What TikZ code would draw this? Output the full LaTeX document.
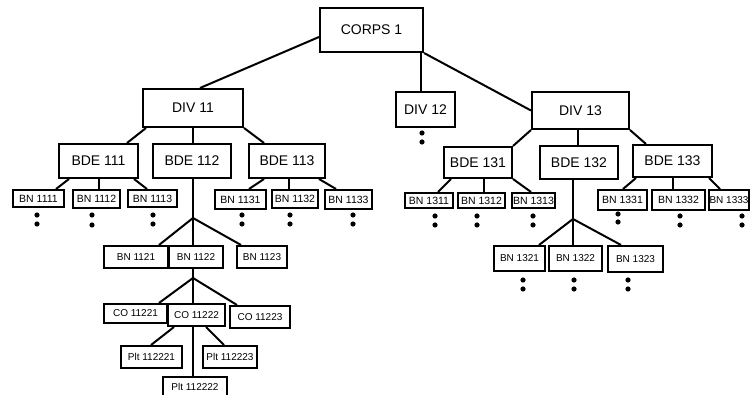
\documentclass[tikz,border=0pt]{standalone}
\usepackage{fontspec}
\setmainfont{Liberation Sans}
\usetikzlibrary{calc}
\newcommand\mybox[7][]{\node[box,#1,minimum width={(#4-#2)*1pt},minimum height={(#5-#3)*1pt}] (#6) at ({(#2+#4)/2},{(#3+#5)/2}) {#7};}
\tikzset{
  box/.style={draw,line width=2pt,inner sep=0pt,fill=white},
  big/.style={font=\fontsize{14}{16}\selectfont},
  bn/.style={font=\fontsize{10.5}{12}\selectfont},
  sm/.style={font=\fontsize{10}{12}\selectfont},
  link/.style={line width=2pt},
  pt/.style={fill=black}
}
\begin{document}
\begin{tikzpicture}[x=1pt,y=-1pt]
\fill[white] (0,0) rectangle (750,395);
\useasboundingbox (0,0) rectangle (750,395);
% top levels
\mybox[big]{320}{8}{423}{52}{corps}{CORPS 1}
\mybox[big]{143}{89}{243}{127}{div11}{DIV 11}
\mybox[big]{396}{92}{455}{127}{div12}{DIV 12}
\mybox[big]{532}{92}{629}{129}{div13}{DIV 13}
% brigades
\mybox[big]{59}{144}{138}{178}{bde111}{BDE 111}
\mybox[big]{153}{144}{231}{178}{bde112}{BDE 112}
\mybox[big]{249}{144}{325}{178}{bde113}{BDE 113}
\mybox[big]{444}{147}{512}{178}{bde131}{BDE 131}
\mybox[big]{540}{146}{618}{179}{bde132}{BDE 132}
\mybox[big]{633}{145}{712}{177}{bde133}{BDE 133}
% battalions
\mybox[bn]{13}{190}{64}{207}{bn1111}{BN 1111}
\mybox[bn]{73}{190}{120}{208}{bn1112}{BN 1112}
\mybox[bn]{128}{190}{177}{207}{bn1113}{BN 1113}
\mybox[bn]{215}{190}{266}{209}{bn1131}{BN 1131}
\mybox[bn]{272}{190}{318}{208}{bn1132}{BN 1132}
\mybox[bn]{325}{190}{372}{209}{bn1133}{BN 1133}
\mybox[bn]{405}{193}{453}{208}{bn1311}{BN 1311}
\mybox[bn]{458}{193}{505}{208}{bn1312}{BN 1312}
\mybox[bn]{512}{193}{555}{208}{bn1313}{BN 1313}
\mybox[bn]{598}{190}{647}{210}{bn1331}{BN 1331}
\mybox[bn]{652}{190}{705}{210}{bn1332}{BN 1332}
\mybox[sm]{709}{190}{749}{210}{bn1333}{BN 1333}
\mybox[sm]{104}{246}{168}{268}{bn1121}{BN 1121}
\mybox[sm]{169}{246}{223}{268}{bn1122}{BN 1122}
\mybox[sm]{237}{246}{287}{268}{bn1123}{BN 1123}
\mybox[sm]{494}{246}{545}{271}{bn1321}{BN 1321}
\mybox[sm]{549}{246}{602}{271}{bn1322}{BN 1322}
\mybox[sm]{608}{246}{663}{272}{bn1323}{BN 1323}
% companies
\mybox[sm]{104}{304}{167}{323}{co11221}{CO 11221}
\mybox[sm]{168}{304}{225}{326}{co11222}{CO 11222}
\mybox[sm]{230}{306}{290}{328}{co11223}{CO 11223}
% platoons
\mybox[sm]{121}{346}{182}{368}{plt112221}{Plt 112221}
\mybox[sm]{203}{346}{257}{368}{plt112223}{Plt 112223}
\mybox[sm]{163}{377}{227}{397}{plt112222}{Plt 112222}
% fork points
\coordinate (f112) at (193,218);
\coordinate (f1122) at (193,278);
\coordinate (f132) at (573,219);
% connectors
\draw[link] ([yshift=-7pt]corps.west) -- ([xshift=7pt]div11.north);
\draw[link] ([xshift=-5pt]div12.north |- corps.south) -- ([xshift=-5pt]div12.north);
\draw[link] (corps.south east) -- (div13.west);
\draw[link] ([xshift=4pt]div11.south west) -- ([xshift=-12pt]bde111.north east);
\draw[link] (div11.south) -- (div11.south |- bde112.north);
\draw[link] (div11.south east) -- ([xshift=16pt]bde113.north west);
\draw[link] ([xshift=11pt]bde111.south west) -- ([xshift=-9pt]bn1111.north east);
\draw[link] (bde111.south) -- (bde111.south |- bn1112.north);
\draw[link] ([xshift=-5pt]bde111.south east) -- ([xshift=20pt]bn1113.north west);
\draw[link] ([xshift=16pt]bde113.south west) -- ([xshift=-18pt]bn1131.north east);
\draw[link] ([xshift=2pt]bde113.south) -- ([xshift=2pt]bde113.south |- bn1132.north);
\draw[link] ([xshift=-7pt]bde113.south east) -- ([xshift=12pt]bn1133.north west);
\draw[link] (bde112.south -| f112) -- (f112);
\draw[link] (f112) -- ([xshift=-10pt]bn1121.north east);
\draw[link] (f112) -- (f112 |- bn1122.north);
\draw[link] (f112) -- ([xshift=5pt]bn1123.north west);
\draw[link] (bn1122.south -| f1122) -- (f1122);
\draw[link] (f1122) -- ([xshift=-9pt]co11221.north east);
\draw[link] (f1122) -- (f1122 |- co11222.north);
\draw[link] (f1122) -- ([xshift=8pt]co11223.north west);
\draw[link] ([xshift=7pt]co11222.south west) -- ([xshift=-32pt]plt112221.north east);
\draw[link] (co11222.south -| f1122) -- (f1122 |- plt112222.north);
\draw[link] ([xshift=-20pt]co11222.south east) -- ([xshift=22pt]plt112223.north west);
\draw[link] (div13.south west) -- (bde131.north east);
\draw[link] ([xshift=-3pt]div13.south) -- ([xshift=-3pt]div13.south |- bde132.north);
\draw[link] (div13.south east) -- ([xshift=14pt]bde133.north west);
\draw[link] ([xshift=8pt]bde131.south west) -- ([xshift=-16pt]bn1311.north east);
\draw[link] ([xshift=2pt]bn1312.north |- bde131.south) -- ([xshift=2pt]bn1312.north);
\draw[link] (bde131.south east) -- ([xshift=20pt]bn1313.north west);
\draw[link] (bde132.south -| f132) -- (f132);
\draw[link] (f132) -- ([xshift=-7pt]bn1321.north east);
\draw[link] (f132) -- (f132 |- bn1322.north);
\draw[link] (f132) -- ([xshift=14pt]bn1323.north west);
\draw[link] ([xshift=4pt]bde133.south west) -- ([xshift=-25pt]bn1331.north east);
\draw[link] (bde133.south) -- (bde133.south |- bn1332.north);
\draw[link] ([xshift=-4pt]bde133.south east) -- ([xshift=12pt]bn1333.north west);
% continuation dots
\foreach \x/\a/\b in {422/133/142, 37/215/224, 92/215/225, 153/215/224, 242/215/224, 290/215/224, 353/215/224,
  435/216/225, 477/216/225, 533/216/225, 618/214/222, 680/216/225, 742/216/225,
  523/280/289, 574/280/289, 628/280/289}
  {\fill[pt] (\x,\a) circle (2.6pt); \fill[pt] (\x,\b) circle (2.6pt);}
\end{tikzpicture}
\end{document}
